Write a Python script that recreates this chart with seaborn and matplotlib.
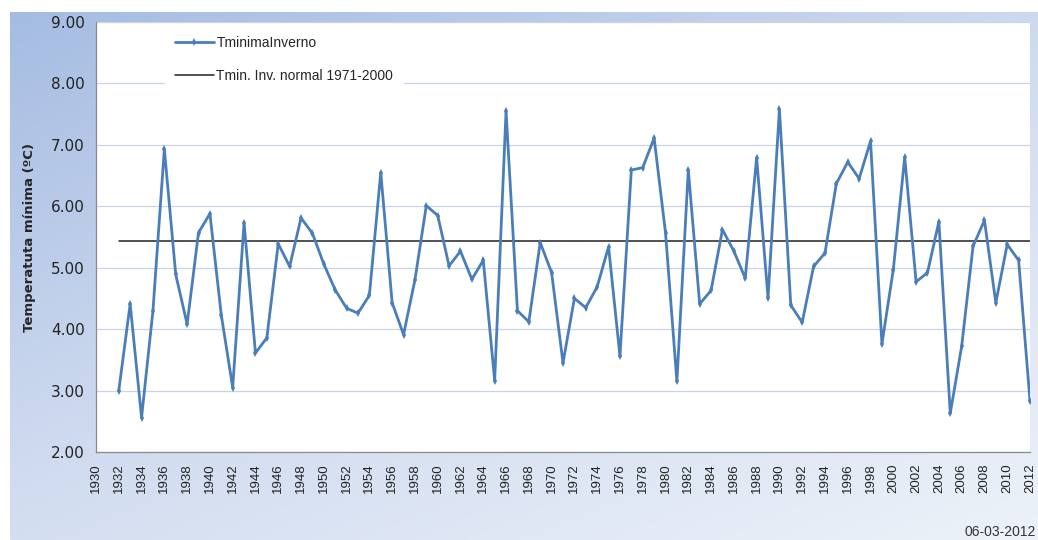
import numpy as np
import matplotlib
matplotlib.use('Agg')
import matplotlib.pyplot as plt
from matplotlib.colors import LinearSegmentedColormap
import seaborn as sns

# winter minimum temperature, one value per year
years = list(range(1932, 2013))
tmin_inverno = [
    3.00, 4.41, 2.56, 4.30, 6.93, 4.89, 4.08, 5.57, 5.88, 4.23,   # 1932-1941
    3.05, 5.73, 3.61, 3.86, 5.39, 5.02, 5.81, 5.56, 5.06, 4.64,   # 1942-1951
    4.34, 4.26, 4.55, 6.55, 4.43, 3.91, 4.80, 6.01, 5.85, 5.03,   # 1952-1961
    5.27, 4.81, 5.12, 3.16, 7.55, 4.30, 4.12, 5.41, 4.92, 3.45,   # 1962-1971
    4.50, 4.35, 4.69, 5.34, 3.56, 6.59, 6.63, 7.11, 5.57, 3.15,   # 1972-1981
    6.59, 4.41, 4.63, 5.62, 5.27, 4.83, 6.79, 4.51, 7.58, 4.39,   # 1982-1991
    4.11, 5.02, 5.24, 6.37, 6.72, 6.45, 7.06, 3.76, 4.97, 6.80,   # 1992-2001
    4.77, 4.92, 5.75, 2.63, 3.72, 5.35, 5.77, 4.43, 5.38, 5.12,   # 2002-2011
    2.83,                                                         # 2012
]
normal_1971_2000 = 5.43
normal_line = [normal_1971_2000] * len(years)

x_ticks = list(range(1930, 2013, 2))
y_ticks = [2, 3, 4, 5, 6, 7, 8, 9]

series_color = '#4a7ebb'
grid_color = '#c9d4e6'
axis_color = '#8a8a8a'

sns.set_style('white')
plt.rcParams['font.family'] = ['DejaVu Sans']

fig = plt.figure(figsize=(10.38, 5.40), dpi=100)
W, H = 1038, 540

# chart area with a soft blue gradient behind the plot
bg = fig.add_axes([10 / W, 0, 1 - 10 / W, 1 - 12 / H], zorder=0)
gx, gy = np.meshgrid(np.linspace(0, 1, 200), np.linspace(0, 1, 200))
grad = 0.55 * gy + 0.45 * gx
cmap = LinearSegmentedColormap.from_list('bg', ['#a5bce2', '#d1dcf0', '#edf2f9'])
bg.imshow(grad, cmap=cmap, aspect='auto', extent=[0, 1, 1, 0])
bg.set_axis_off()

ax = fig.add_axes([96 / W, 1 - 452 / H, (1030 - 96) / W, (452 - 22) / H], zorder=1)
ax.set_facecolor('white')

sns.lineplot(x=years, y=tmin_inverno, ax=ax, color=series_color, linewidth=2.0,
             marker='d', markersize=4, markeredgewidth=0, label='TminimaInverno', zorder=3)
sns.lineplot(x=years, y=normal_line, ax=ax, color='#222222', linewidth=1.1,
             label='Tmin. Inv. normal 1971-2000', zorder=2)

ax.set_xlim(1930, 2012)
ax.set_ylim(2, 9)
ax.set_xticks(x_ticks)
ax.set_xticklabels([str(y) for y in x_ticks], rotation=90, fontsize=9.5,
                   family='Liberation Sans', color='#222222')
ax.set_yticks(y_ticks)
ax.set_yticklabels([f'{v:.2f}' for v in y_ticks], fontsize=11, color='#222222')

ax.yaxis.grid(True, color=grid_color, linewidth=0.9, zorder=0)
ax.xaxis.grid(False)
for side in ['top', 'right']:
    ax.spines[side].set_visible(False)
for side in ['left', 'bottom']:
    ax.spines[side].set_color(axis_color)
    ax.spines[side].set_linewidth(0.9)
ax.tick_params(axis='both', direction='out', length=4, width=0.8, color=axis_color)
ax.tick_params(axis='y', pad=4)
ax.tick_params(axis='x', pad=4)

ax.set_xlabel('')
ax.set_ylabel('Temperatuta mínima (ºC)', fontsize=9.5, fontweight='bold', labelpad=11)

leg = ax.legend(loc='upper left', bbox_to_anchor=(158 / W, 1 - 19 / H),
                bbox_transform=fig.transFigure, frameon=True, fancybox=False,
                handlelength=2.8, handletextpad=0.2, labelspacing=1.4,
                borderpad=0.7, prop={'family': 'Liberation Sans', 'size': 10})
leg.get_frame().set_facecolor('white')
leg.get_frame().set_edgecolor('white')
leg.get_frame().set_alpha(1)

fig.text(1036 / W, 1 - 532 / H, '06-03-2012', fontsize=10, color='#333333',
         family='Liberation Sans', va='center', ha='right')

fig.savefig('out.png', dpi=100)
